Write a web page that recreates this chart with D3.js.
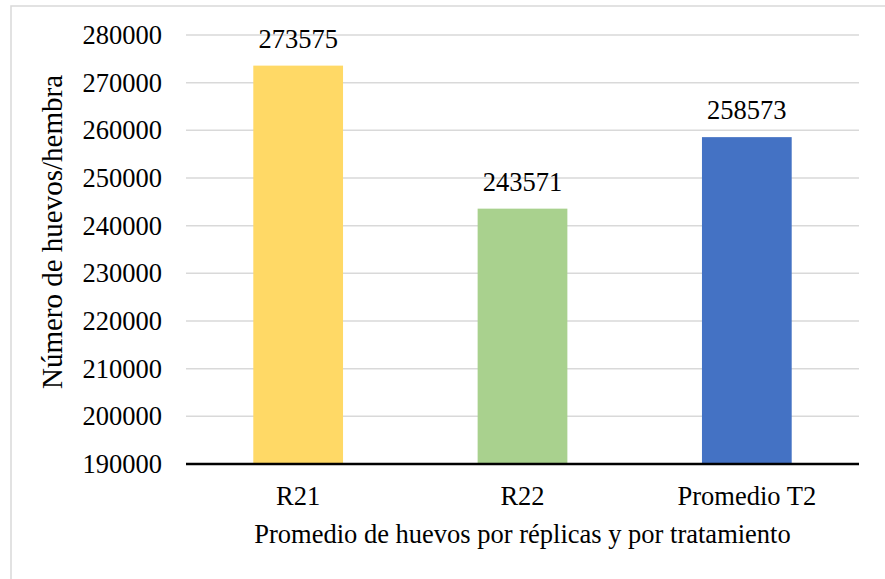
<!DOCTYPE html>
<html>
<head>
<meta charset="utf-8">
<script src="https://cdn.jsdelivr.net/npm/d3@7"></script>
<style>
  body { margin: 0; background: #fff; }
</style>
</head>
<body>
<svg id="chart" width="885" height="579"></svg>
<script>
// chart data
let categories = ['R21', 'R22', 'Promedio T2'];
let values = [273575, 243571, 258573];
let colors = ['#FFD966', '#A9D18E', '#4472C4'];
let yTicks = [190000, 200000, 210000, 220000, 230000, 240000, 250000, 260000, 270000, 280000];

let w = 885, h = 579;
let padding = {top: 35, right: 26, bottom: 115, left: 186};
let width = w - padding.left - padding.right;
let height = h - padding.top - padding.bottom;
let fontSize = 26.5;
let font = 'Liberation Serif';

let svg = d3.select('#chart');

// outer chart border (cropped at right and bottom)
svg.append('rect')
  .attr('x', 11).attr('y', 6)
  .attr('width', w + 20).attr('height', h + 20)
  .attr('fill', 'none')
  .attr('stroke', '#d9d9d9')
  .attr('stroke-width', 1.5);

let xScale = d3.scaleBand()
  .domain(categories)
  .range([0, width])
  .paddingInner(0.6)
  .paddingOuter(0.3);

let yScale = d3.scaleLinear()
  .domain([190000, 280000])
  .range([height, 0]);

let g = svg.append('g')
  .attr('transform', 'translate(' + padding.left + ',' + padding.top + ')');

// gridlines
g.selectAll('.grid')
  .data(yTicks.slice(1))
  .enter()
  .append('line')
  .attr('class', 'grid')
  .attr('x1', 0).attr('x2', width)
  .attr('y1', d => yScale(d)).attr('y2', d => yScale(d))
  .attr('stroke', '#d9d9d9')
  .attr('stroke-width', 1.5);

// y tick labels
g.selectAll('.y-label')
  .data(yTicks)
  .enter()
  .append('text')
  .attr('class', 'y-label')
  .attr('x', -24)
  .attr('y', d => yScale(d))
  .attr('dy', '0.34em')
  .attr('text-anchor', 'end')
  .style('font-family', font)
  .style('font-size', fontSize + 'px')
  .text(d => d);

// bars
g.selectAll('.bar')
  .data(values)
  .enter()
  .append('rect')
  .attr('class', 'bar')
  .attr('x', (d, i) => xScale(categories[i]))
  .attr('y', d => yScale(d))
  .attr('width', xScale.bandwidth())
  .attr('height', d => height - yScale(d))
  .attr('fill', (d, i) => colors[i]);

// data labels
g.selectAll('.data-label')
  .data(values)
  .enter()
  .append('text')
  .attr('class', 'data-label')
  .attr('x', (d, i) => xScale(categories[i]) + xScale.bandwidth() / 2)
  .attr('y', d => yScale(d) - 18)
  .attr('text-anchor', 'middle')
  .style('font-family', font)
  .style('font-size', fontSize + 'px')
  .text(d => d);

// x axis line
g.append('line')
  .attr('x1', 0).attr('x2', width)
  .attr('y1', height).attr('y2', height)
  .attr('stroke', '#000')
  .attr('stroke-width', 2.5);

// category labels
g.selectAll('.x-label')
  .data(categories)
  .enter()
  .append('text')
  .attr('class', 'x-label')
  .attr('x', d => xScale(d) + xScale.bandwidth() / 2)
  .attr('y', height + 41)
  .attr('text-anchor', 'middle')
  .style('font-family', font)
  .style('font-size', fontSize + 'px')
  .text(d => d);

// axis titles
svg.append('text')
  .attr('x', padding.left + width / 2)
  .attr('y', 543)
  .attr('text-anchor', 'middle')
  .style('font-family', font)
  .style('font-size', fontSize + 'px')
  .text('Promedio de huevos por réplicas y por tratamiento');

svg.append('text')
  .attr('transform', 'translate(62,232) rotate(-90)')
  .attr('text-anchor', 'middle')
  .style('font-family', font)
  .style('font-size', '29px')
  .text('Número de huevos/hembra');
</script>
</body>
</html>
